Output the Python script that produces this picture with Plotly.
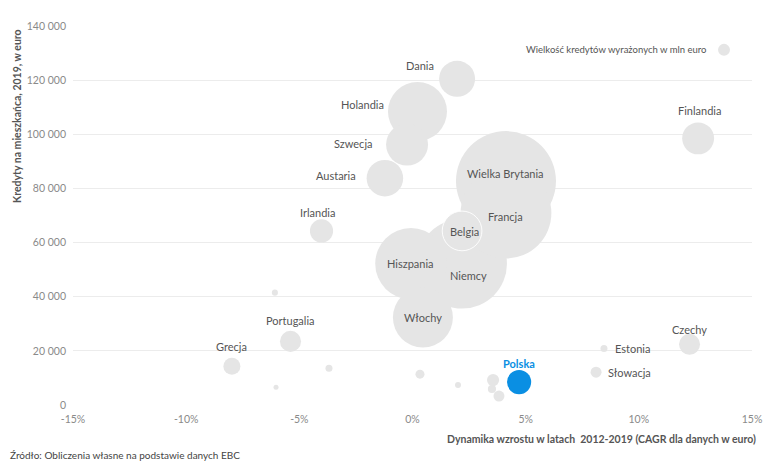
import math
import plotly.graph_objects as go

# ---------------- data ----------------
countries = ["Wielka Brytania", "Niemcy", "Francja", "Hiszpania", "Belgia", "Holandia",
             "Włochy", "Szwecja", "Dania", "Austaria", "Irlandia", "Finlandia",
             "Portugalia", "Grecja", "Czechy", "Polska", "Estonia", "Słowacja",
             "Cypr", "Słowenia", "Łotwa", "Chorwacja", "Litwa", "Węgry", "Bułgaria", "Rumunia"]
show_label = [True, True, True, True, True, True,
              True, True, True, True, True, True,
              True, True, True, True, True, True,
              False, False, False, False, False, False, False, False]
cagr = [4.13, 2.19, 4.13, -0.07, 2.19, 0.22,
        0.46, -0.24, 1.97, -1.22, -4.02, 12.62,
        -5.39, -7.98, 12.24, 4.71, 8.46, 8.11,
        -6.08, -3.69, -6.03, 0.33, 2.01, 3.56, 3.51, 3.82]
per_capita = [82700, 52200, 70900, 52200, 64300, 108400,
              32300, 96200, 120500, 83800, 64300, 98500,
              23500, 14300, 22400, 8450, 20900, 12100,
              41500, 13600, 6600, 11400, 7350, 9200, 5900, 3300]
volume_mln = [5400000, 4350000, 4450000, 2750000, 850000, 1880000,
              1940000, 950000, 700000, 720000, 290000, 550000,
              240000, 156000, 238000, 315000, 26500, 65000,
              20000, 26500, 13500, 44000, 19500, 80000, 36000, 65000]

x_ticks = [-15, -10, -5, 0, 5, 10, 15]
x_tick_labels = ["-15%", "-10%", "-5%", "0%", "5%", "10%", "15%"]
y_ticks = [0, 20000, 40000, 60000, 80000, 100000, 120000, 140000]

# ---------------- styling ----------------
GREY = "#e5e5e5"
BLUE = "#0a8fe3"
TEXT = "#555555"
TICK = "#8a8a8a"
FONT = "Lato, sans-serif"
MAX_R = 50  # pixel radius of the largest bubble
sizeref = max(volume_mln) / (2 * MAX_R ** 2)

# page body has an 8px margin, figure is sized to fit the 780x462 window
W, H = 772, 454
ML, MR, MT, MB = 65, 28, 16, 57
PW, PH = W - ML - MR, H - MT - MB


def px_to_paper(px, py):
    """window pixel -> paper coordinates (for layout decorations only)"""
    return (px - 8 - ML) / PW, (H - MB - (py - 8)) / PH


# label placement: (xanchor, dx, dy) in pixels relative to bubble centre (dy up positive)
label_place = {
    "Wielka Brytania": ("center", 0, 8),
    "Niemcy": ("center", 6, -12),
    "Francja": ("center", 0, -3),
    "Hiszpania": ("center", 0, 0),
    "Belgia": ("center", 2, -1),
    "Holandia": ("right", -31, 7),
    "Włochy": ("center", 0, 0),
    "Szwecja": ("right", -33, 1),
    "Dania": ("center", -37, 13),
    "Austaria": ("right", -27, 3),
    "Irlandia": ("center", -4, 18),
    "Finlandia": ("center", 1, 28),
    "Portugalia": ("center", 0, 21),
    "Grecja": ("center", 0, 20),
    "Czechy": ("center", 0, 15),
    "Polska": ("center", 0, 19),
    "Estonia": ("left", 9, 0),
    "Słowacja": ("left", 10, 0),
}

colors = [BLUE if c == "Polska" else GREY for c in countries]
line_w = [1 if c == "Belgia" else 0 for c in countries]

fig = go.Figure()
fig.add_trace(go.Scatter(
    x=cagr, y=per_capita, mode="markers",
    marker=dict(size=volume_mln, sizemode="area", sizeref=sizeref,
                color=colors, opacity=1,
                line=dict(color="rgba(255,255,255,0.9)", width=line_w)),
    text=countries, hoverinfo="text", showlegend=False, cliponaxis=False,
))

annotations = []
for c, show, xv, yv in zip(countries, show_label, cagr, per_capita):
    if not show:
        continue
    anchor, dx, dy = label_place[c]
    polska = c == "Polska"
    annotations.append(dict(
        x=xv, y=yv, xref="x", yref="y", text=f"<b>{c}</b>" if polska else c,
        showarrow=False, xanchor=anchor, yanchor="middle", xshift=dx, yshift=dy,
        font=dict(family=FONT, size=11, color=BLUE if polska else TEXT),
    ))

yt_x, yt_y = px_to_paper(17, 25)
xt_x, xt_y = px_to_paper(758, 439)
src_x, src_y = px_to_paper(8, 455)
lg_x, lg_y = px_to_paper(708, 48)
lc_x, lc_y = px_to_paper(724, 48)

annotations += [
    dict(text="<b>Kredyty na mieszkańca, 2019, w euro</b>", textangle=-90,
         xref="paper", yref="paper", x=yt_x, y=yt_y, xanchor="center", yanchor="top",
         showarrow=False, font=dict(family=FONT, size=10.5, color=TEXT)),
    dict(text="<b>Dynamika wzrostu w latach  2012-2019 (CAGR dla danych w euro)</b>",
         xref="paper", yref="paper", x=xt_x, y=xt_y, xanchor="right", yanchor="middle",
         showarrow=False, font=dict(family=FONT, size=10.5, color=TEXT)),
    dict(text="Źródło: Obliczenia własne na podstawie danych EBC",
         xref="paper", yref="paper", x=src_x, y=src_y, xanchor="left", yanchor="middle",
         showarrow=False, font=dict(family=FONT, size=10, color="#444444")),
    dict(text="Wielkość kredytów wyrażonych w mln euro",
         xref="paper", yref="paper", x=lg_x, y=lg_y, xanchor="right", yanchor="middle",
         showarrow=False, font=dict(family=FONT, size=9.5, color="#555555")),
]

fig.update_layout(
    width=W, height=H,
    margin=dict(l=ML, r=MR, t=MT, b=MB),
    paper_bgcolor="white", plot_bgcolor="white",
    separators=", ",
    font=dict(family=FONT, color=TICK, size=11),
    annotations=annotations,
    shapes=[dict(type="circle", xref="paper", yref="paper",
                 xsizemode="pixel", ysizemode="pixel",
                 xanchor=lc_x, yanchor=lc_y, x0=-6, x1=6, y0=-6, y1=6,
                 fillcolor=GREY, line=dict(width=0))],
    xaxis=dict(range=[-15, 15], tickvals=x_ticks, ticktext=x_tick_labels,
               showgrid=False, zeroline=False, showline=False, ticks="",
               ticklabelstandoff=6,
               tickfont=dict(family=FONT, size=10.5, color=TICK)),
    yaxis=dict(range=[0, 140000], tickvals=y_ticks, tickformat=",d",
               showgrid=True, gridcolor="#ececec", gridwidth=1,
               zeroline=False, showline=False, ticks="", ticklabelstandoff=6,
               tickfont=dict(family=FONT, size=10.5, color=TICK)),
)

fig.write_html("out.html")
